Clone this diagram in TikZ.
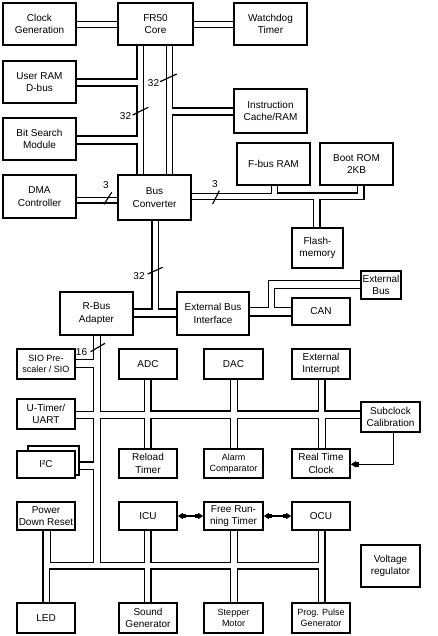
\documentclass[tikz,border=0pt]{standalone}
\usepackage{fontspec}
\setmainfont{Liberation Sans}
\usetikzlibrary{arrows.meta}
\tikzset{
  box/.style={draw, line width=1.6pt, fill=white, inner sep=0pt, align=center,
    font=\fontsize{10}{12.5}\selectfont},
  sm/.style={font=\fontsize{9}{11.5}\selectfont},
  tk/.style={line width=1.5pt},
  md/.style={line width=1.1pt},
  tn/.style={line width=0.9pt},
  lbl/.style={font=\fontsize{10}{12}\selectfont, inner sep=0pt},
  slash/.style={line width=1.2pt},
  arr/.style={line width=0.9pt, -{Square[length=3pt,width=4.5pt]Triangle[length=5pt,width=6pt]}},
  darr/.style={line width=1.5pt, {Triangle[length=5pt,width=6pt]Square[length=3pt,width=4.5pt]}-{Square[length=3pt,width=4.5pt]Triangle[length=5pt,width=6pt]}},
}
\newcommand\bx[7][]{\node[box,#1,minimum width={(#5-#3)*1pt},minimum height={(#6-#4)*1pt}] (#2) at ({(#3+#5)/2},{(#4+#6)/2}) {#7};}
\begin{document}
\begin{tikzpicture}[x=1pt,y=-1pt]
\fill[white] (0,0) rectangle (438,636);
\useasboundingbox (0,0) rectangle (438,636);
% boxes
\bx{clk}{3}{3}{76}{45}{Clock\\Generation}
\bx{core}{118}{3}{193}{45}{FR50\\Core}
\bx{wdt}{234}{3}{307}{45}{Watchdog\\Timer}
\bx{uram}{3}{61}{76}{103}{User RAM\\D-bus}
\bx{bits}{3}{118}{76}{160}{Bit Search\\Module}
\bx{icache}{234}{89}{307}{133}{Instruction\\Cache/RAM}
\bx{fram}{237}{143}{310}{185}{F-bus RAM}
\bx{brom}{320}{143}{393}{185}{Boot ROM\\2KB}
\bx{dma}{3}{175}{76}{218}{DMA\\Controller}
\bx{busc}{118}{175}{191}{220}{Bus\\Converter}
\bx{flash}{292}{228}{343}{268}{Flash-\\memory}
\bx{extb}{361}{271}{401}{299}{External\\Bus}
\bx{can}{292}{298}{350}{325}{CAN}
\bx{ebi}{177}{292}{249}{335}{External Bus\\Interface}
\bx{rbus}{60}{292}{133}{335}{R-Bus\\Adapter}
\bx[sm]{sio}{17}{349}{75}{379}{SIO Pre-\\scaler / SIO}
\bx{adc}{119}{349}{177}{379}{ADC}
\bx{dac}{204}{349}{263}{379}{DAC}
\bx{exti}{292}{349}{350}{379}{External\\Interrupt}
\bx{utim}{17}{399}{75}{429}{U-Timer/\\UART}
\bx{subc}{361}{402}{420}{432}{Subclock\\Calibration}
\bx{i2cb}{28}{446}{79}{475}{}
\bx{i2c}{17}{451}{75}{478}{I²C}
\bx{reload}{119}{449}{177}{478}{Reload\\Timer}
\bx[sm]{alarm}{204}{449}{263}{478}{Alarm\\Comparator}
\bx{rtc}{292}{449}{350}{478}{Real Time\\Clock}
\bx{pdr}{17}{502}{75}{530}{Power\\Down Reset}
\bx{icu}{119}{502}{177}{530}{ICU}
\bx{frt}{204}{502}{263}{530}{Free Run-\\ning Timer}
\bx{ocu}{292}{502}{350}{530}{OCU}
\bx{vreg}{361}{545}{420}{587}{Voltage\\regulator}
\bx{led}{17}{603}{75}{633}{LED}
\bx{sound}{119}{603}{177}{633}{Sound\\Generator}
\bx[sm]{stepm}{204}{603}{263}{633}{Stepper\\Motor}
\bx[sm]{ppg}{292}{603}{350}{633}{Prog. Pulse\\Generator}
% top buses
\draw[tk] (clk.east |- 0,21.5) -- (core.west |- 0,21.5);
\draw[tn] (clk.east |- 0,27.5) -- (core.west |- 0,27.5);
\draw[tk] (core.east |- 0,21.5) -- (wdt.west |- 0,21.5);
\draw[tn] (core.east |- 0,27.5) -- (wdt.west |- 0,27.5);
\draw[tk] (core.south -| 137,0) -- (137,79) -- (uram.east |- 0,79);
\draw[tk] (uram.east |- 0,86) -- (137,86) -- (137,136) -- (bits.east |- 0,136);
\draw[tk] (bits.east |- 0,144) -- (137,144) -- (busc.north -| 137,0);
\draw[tk] (core.south -| 143.5,0) -- (busc.north -| 143.5,0);
\draw[tn] (core.south -| 166,0) -- (busc.north -| 166,0);
\draw[tk] (core.south -| 172.5,0) -- (172.5,108) -- (icache.west |- 0,108);
\draw[tk] (icache.west |- 0,115) -- (172.5,115) -- (busc.north -| 172.5,0);
% DMA
\draw[tn] (dma.east |- 0,197) -- (busc.west |- 0,197);
\draw[tk] (dma.east |- 0,203) -- (busc.west |- 0,203);
% bus converter right
\draw[tn] (busc.east |- 0,193) -- (271,193) -- (fram.south -| 271,0);
\draw[tk] (fram.south -| 277.3,0) -- (277.3,193) -- (357.3,193) -- (brom.south -| 357.3,0);
\draw[md] (busc.east |- 0,199.5) -- (313.5,199.5) -- (flash.north -| 313.5,0);
\draw[md] (flash.north -| 320,0) -- (320,199.5) -- (364,199.5) -- (brom.south -| 364,0);
% bus converter bottom
\draw[md] (busc.south -| 152,0) -- (152,309) -- (rbus.east |- 0,309);
\draw[md] (busc.south -| 158.5,0) -- (158.5,309) -- (ebi.west |- 0,309);
\draw[tk] (rbus.east |- 0,317) -- (ebi.west |- 0,317);
% external bus interface
\draw[tn] (ebi.east |- 0,307.5) -- (268,307.5) -- (268,280) -- (extb.west |- 0,280);
\draw[tn] (extb.west |- 0,288) -- (274.3,288) -- (274.3,307.5) -- (can.west |- 0,307.5);
\draw[tk] (ebi.east |- 0,316) -- (can.west |- 0,316);
% R-bus left snake
\draw[tn] (rbus.south -| 93.5,0) -- (93.5,359.5) -- (sio.east |- 0,359.5);
\draw[tn] (sio.east |- 0,367.5) -- (93.5,367.5) -- (93.5,411) -- (utim.east |- 0,411);
\draw[tk] (utim.east |- 0,418.5) -- (93.5,418.5) -- (93.5,462) -- (i2cb.east |- 0,462);
\draw[tn] (i2cb.east |- 0,469) -- (93.5,469) -- (93.5,562.5) -- (50,562.5) -- (pdr.south -| 50,0);
\draw[tn] (rbus.south -| 100.5,0) -- (100.5,411) -- (144.5,411) -- (adc.south -| 144.5,0);
\draw[md] (reload.north -| 144.5,0) -- (144.5,418.5) -- (100.5,418.5) -- (100.5,562.5) -- (144.5,562.5) -- (icu.south -| 144.5,0);
% main bus
\draw[tk] (adc.south -| 151,0) -- (151,411) -- (230.7,411) -- (dac.south -| 230.7,0);
\draw[tk] (dac.south -| 237.3,0) -- (237.3,411) -- (318.3,411) -- (exti.south -| 318.3,0);
\draw[tk] (exti.south -| 325,0) -- (325,411) -- (subc.west |- 0,411);
\draw[tk] (reload.north -| 151,0) -- (151,418.5) -- (230.7,418.5) -- (alarm.north -| 230.7,0);
\draw[tk] (alarm.north -| 237.3,0) -- (237.3,418.5) -- (318.3,418.5) -- (rtc.north -| 318.3,0);
\draw[tn] (rtc.north -| 325,0) -- (325,418.5) -- (subc.west |- 0,418.5);
% lower bus
\draw[tk] (icu.south -| 151,0) -- (151,562.5) -- (230.7,562.5) -- (frt.south -| 230.7,0);
\draw[tk] (frt.south -| 237.3,0) -- (237.3,562.5) -- (318.3,562.5) -- (ocu.south -| 318.3,0);
\draw[tk] (ocu.south -| 325,0) -- (ppg.north -| 325,0);
\draw[tk] (pdr.south -| 43,0) -- (led.north -| 43,0);
\draw[tk] (led.north -| 49.7,0) -- (49.7,569) -- (144.5,569) -- (sound.north -| 144.5,0);
\draw[tk] (sound.north -| 151,0) -- (151,569) -- (230.7,569) -- (stepm.north -| 230.7,0);
\draw[tk] (stepm.north -| 237.3,0) -- (237.3,569) -- (318.3,569) -- (ppg.north -| 318.3,0);
% arrows
\draw[arr] (subc.south -| 393.3,0) -- (393.3,464.3) -- (rtc.east |- 0,464.3);
\draw[darr] (icu.east |- 0,516) -- (frt.west |- 0,516);
\draw[darr] (frt.east |- 0,516) -- (ocu.west |- 0,516);
% bus width labels
\node[lbl] (w1) at (153.5,83) {32};
\draw[slash] (160,81.7) -- (176.7,74);
\node[lbl] (w2) at (125.5,116) {32};
\draw[slash] (132.7,115) -- (148.3,107.3);
\node[lbl] (w3) at (106,185.5) {3};
\draw[slash] (104,204.3) -- (111.7,192.3);
\node[lbl] (w4) at (215,184.5) {3};
\draw[slash] (212.7,204) -- (219.3,190.7);
\node[lbl] (w5) at (139,276) {32};
\draw[slash] (147.7,274) -- (162.7,267.3);
\node[lbl] (w6) at (81.5,352) {16};
\draw[slash] (90.7,351.7) -- (105,343.3);
\end{tikzpicture}
\end{document}
